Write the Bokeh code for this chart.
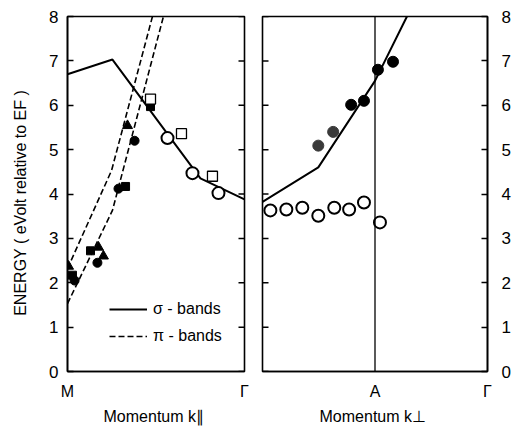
from bokeh.plotting import figure
from bokeh.models import Range1d, FixedTicker, LinearAxis, Span, Legend, LegendItem
from bokeh.layouts import row
from bokeh.embed import file_html
from bokeh.resources import INLINE

# ---------------- data ----------------
energy_ticks = [0, 1, 2, 3, 4, 5, 6, 7, 8]
k_par_ticks = [0, 1]
k_par_labels = ["M", "Γ"]
k_perp_ticks = [0.5, 1]
k_perp_labels = ["A", "Γ"]
A_point = 0.5

# left panel (M -> Gamma), bands
sigma_par_k = [0.0, 0.254, 0.751, 1.0]
sigma_par_E = [6.70, 7.03, 4.35, 3.88]
pi1_par_k = [0.0, 0.249, 0.48]
pi1_par_E = [2.32, 4.53, 8.0]
pi2_par_k = [0.0, 0.254, 0.542]
pi2_par_E = [1.53, 3.63, 8.0]

# left panel, measured points
tri_k = [0.006, 0.175, 0.203, 0.339]
tri_E = [2.37, 2.80, 2.60, 5.54]
fcirc_k = [0.040, 0.169, 0.288, 0.379]
fcirc_E = [2.05, 2.45, 4.12, 5.20]
fsq_k = [0.028, 0.130, 0.328, 0.469]
fsq_E = [2.17, 2.72, 4.17, 5.97]
osq_k = [0.469, 0.644, 0.819]
osq_E = [6.14, 5.36, 4.40]
ocirc_k = [0.565, 0.706, 0.853]
ocirc_E = [5.26, 4.47, 4.02]

# right panel (Gamma -> A -> Gamma)
sigma_perp_k = [0.0, 0.248, 0.5, 0.642]
sigma_perp_E = [3.82, 4.60, 6.55, 8.0]
perp_grey_k = [0.248, 0.314]
perp_grey_E = [5.09, 5.40]
perp_fcirc_k = [0.394, 0.451, 0.513, 0.580]
perp_fcirc_E = [6.01, 6.10, 6.80, 6.98]
perp_ocirc_k = [0.035, 0.106, 0.177, 0.248, 0.319, 0.385, 0.451, 0.522]
perp_ocirc_E = [3.63, 3.65, 3.69, 3.51, 3.69, 3.65, 3.81, 3.36]

FONT = "Liberation Sans"
INK = "black"


def style_y_axis(ax, standoff):
    ax.ticker = FixedTicker(ticks=energy_ticks)
    ax.major_tick_in = 6
    ax.major_tick_out = 0
    ax.minor_tick_in = 0
    ax.minor_tick_out = 0
    ax.major_tick_line_width = 1.5
    ax.major_tick_line_color = INK
    ax.axis_line_width = 1.6
    ax.axis_line_color = INK
    ax.major_label_standoff = standoff
    ax.major_label_text_font = FONT
    ax.major_label_text_color = INK
    ax.major_label_text_font_size = "17px"


def style_x_axis(ax, ticks, labels, title):
    ax.ticker = FixedTicker(ticks=ticks)
    ax.major_label_overrides = {t: l for t, l in zip(ticks, labels)}
    ax.major_tick_in = 0
    ax.major_tick_out = 0
    ax.minor_tick_in = 0
    ax.minor_tick_out = 0
    ax.axis_line_width = 1.6
    ax.axis_line_color = INK
    ax.major_label_standoff = 11
    ax.major_label_text_font = FONT
    ax.major_label_text_font_size = "16px"
    ax.major_label_text_color = INK
    ax.axis_label = title
    ax.axis_label_text_font = FONT
    ax.axis_label_text_font_size = "16px"
    ax.axis_label_text_font_style = "normal"
    ax.axis_label_text_color = INK
    ax.axis_label_standoff = 5


def make_fig(width, bl, br):
    p = figure(width=width, height=428, output_backend="svg", toolbar_location=None,
               x_range=Range1d(0, 1), y_range=Range1d(0, 8),
               min_border_left=bl, min_border_right=br,
               min_border_top=16, min_border_bottom=57)
    p.xgrid.visible = False
    p.ygrid.visible = False
    p.outline_line_color = INK
    p.outline_line_width = 1.6
    p.background_fill_color = "white"
    p.border_fill_color = "white"
    return p


def inner_ticks(p, edge):
    # tick marks on an unlabelled frame edge (half of each dash is clipped by the frame)
    p.scatter([edge] * len(energy_ticks), energy_ticks, marker="dash", size=12,
              line_color=INK, line_width=1.5)


# ---------------- left panel ----------------
p1 = make_fig(253, 67, 9)
style_x_axis(p1.xaxis[0], k_par_ticks, k_par_labels, "Momentum  k\u2225")
style_y_axis(p1.yaxis[0], 9)
ya = p1.yaxis[0]
ya.axis_label = "ENERGY  ( eVolt  relative  to  EF )"
ya.axis_label_text_font = FONT
ya.axis_label_text_font_size = "16px"
ya.axis_label_text_font_style = "normal"
ya.axis_label_text_color = INK
ya.axis_label_standoff = 17
inner_ticks(p1, 1.0)

sig = p1.line(sigma_par_k, sigma_par_E, line_color=INK, line_width=2)
pi_a = p1.line(pi1_par_k, pi1_par_E, line_color=INK, line_width=1.6, line_dash="6 3")
p1.line(pi2_par_k, pi2_par_E, line_color=INK, line_width=1.6, line_dash="6 3")

p1.scatter(tri_k, tri_E, marker="triangle", size=10, color=INK)
p1.scatter(fcirc_k, fcirc_E, marker="circle", size=9, color=INK)
p1.scatter(fsq_k, fsq_E, marker="square", size=8, color=INK)
p1.scatter(osq_k, osq_E, marker="square", size=10, fill_color="white",
           line_color=INK, line_width=1.3)
p1.scatter(ocirc_k, ocirc_E, marker="circle", size=12, fill_color="white",
           line_color=INK, line_width=2)

legend = Legend(items=[LegendItem(label="\u03c3 - bands", renderers=[sig]),
                       LegendItem(label="\u03c0 - bands", renderers=[pi_a])],
                location=(42, 25), border_line_alpha=0, background_fill_alpha=0,
                padding=0, margin=0, glyph_width=38, glyph_height=20,
                label_height=20, label_standoff=6, spacing=7,
                label_text_font=FONT, label_text_font_size="16px",
                label_text_color=INK)
p1.add_layout(legend)

# ---------------- right panel ----------------
p2 = make_fig(260, 9, 25)
style_x_axis(p2.xaxis[0], k_perp_ticks, k_perp_labels, "Momentum  k\u22a5")
p2.yaxis[0].visible = False
r_ax2 = LinearAxis()
style_y_axis(r_ax2, 14)
p2.add_layout(r_ax2, "right")
inner_ticks(p2, 0.0)

p2.add_layout(Span(location=A_point, dimension="height", line_color=INK, line_width=1.3))
p2.line(sigma_perp_k, sigma_perp_E, line_color=INK, line_width=2)
p2.scatter(perp_grey_k, perp_grey_E, marker="circle", size=11, color="#3a3a3a")
p2.scatter(perp_fcirc_k, perp_fcirc_E, marker="circle", size=11, color=INK)
p2.scatter(perp_ocirc_k, perp_ocirc_E, marker="circle", size=12, fill_color="white",
           line_color=INK, line_width=2)

layout = row(p1, p2)
open("out.html", "w").write(file_html(layout, INLINE))
